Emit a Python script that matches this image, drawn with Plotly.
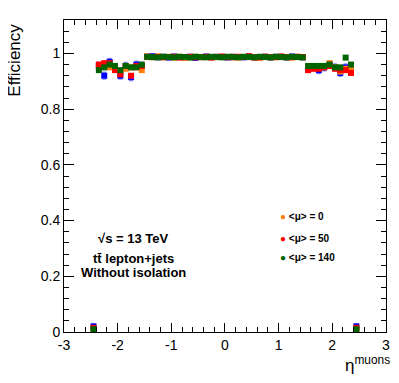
import plotly.graph_objects as go

# bin centres in eta (0.1 wide bins from -2.5 to 2.5)
eta = [-2.45, -2.35, -2.25, -2.15, -2.05, -1.95, -1.85, -1.75, -1.65, -1.55,
       -1.45, -1.35, -1.25, -1.15, -1.05, -0.95, -0.85, -0.75, -0.65, -0.55,
       -0.45, -0.35, -0.25, -0.15, -0.05, 0.05, 0.15, 0.25, 0.35, 0.45,
       0.55, 0.65, 0.75, 0.85, 0.95, 1.05, 1.15, 1.25, 1.35, 1.45,
       1.55, 1.65, 1.75, 1.85, 1.95, 2.05, 2.15, 2.25, 2.35, 2.45]

eff_blue = [0.020, 0.955, 0.920, 0.970, 0.950, 0.920, 0.955, 0.915, 0.960, 0.955,
            0.987, 0.990, 0.986, 0.988, 0.985, 0.989, 0.987, 0.986, 0.988, 0.984,
            0.987, 0.989, 0.986, 0.988, 0.987, 0.985, 0.988, 0.987, 0.986, 0.989,
            0.987, 0.985, 0.988, 0.986, 0.988, 0.987, 0.986, 0.989, 0.987, 0.986,
            0.945, 0.950, 0.940, 0.950, 0.960, 0.950, 0.930, 0.950, 0.935, 0.020]
eff_mu0 = [0.012, 0.955, 0.960, 0.950, 0.945, 0.935, 0.945, 0.950, 0.950, 0.940,
           0.987, 0.986, 0.989, 0.987, 0.988, 0.985, 0.988, 0.984, 0.987, 0.988,
           0.986, 0.987, 0.985, 0.988, 0.987, 0.986, 0.988, 0.985, 0.987, 0.988,
           0.986, 0.984, 0.988, 0.987, 0.986, 0.988, 0.987, 0.985, 0.988, 0.986,
           0.950, 0.950, 0.950, 0.955, 0.965, 0.950, 0.935, 0.945, 0.940, 0.012]
eff_mu50 = [0.015, 0.960, 0.965, 0.965, 0.940, 0.925, 0.955, 0.920, 0.955, 0.955,
            0.989, 0.987, 0.988, 0.986, 0.987, 0.988, 0.985, 0.987, 0.988, 0.986,
            0.987, 0.988, 0.986, 0.987, 0.989, 0.987, 0.986, 0.988, 0.987, 0.990,
            0.985, 0.987, 0.988, 0.986, 0.987, 0.989, 0.986, 0.987, 0.988, 0.987,
            0.940, 0.945, 0.945, 0.950, 0.955, 0.945, 0.940, 0.940, 0.930, 0.015]
eff_mu140 = [0.010, 0.940, 0.950, 0.960, 0.955, 0.940, 0.955, 0.950, 0.950, 0.960,
             0.988, 0.987, 0.986, 0.988, 0.987, 0.986, 0.988, 0.987, 0.985, 0.988,
             0.987, 0.986, 0.988, 0.987, 0.986, 0.988, 0.987, 0.986, 0.988, 0.987,
             0.986, 0.988, 0.987, 0.986, 0.988, 0.987, 0.986, 0.988, 0.987, 0.986,
             0.955, 0.955, 0.955, 0.955, 0.960, 0.950, 0.950, 0.985, 0.960, 0.010]

err_blue = [0.010, 0.012, 0.012, 0.012, 0.012, 0.012, 0.012, 0.012, 0.012, 0.012,
            0.005, 0.005, 0.005, 0.005, 0.005, 0.005, 0.005, 0.005, 0.005, 0.005,
            0.005, 0.005, 0.005, 0.005, 0.005, 0.005, 0.005, 0.005, 0.005, 0.005,
            0.005, 0.005, 0.005, 0.005, 0.005, 0.005, 0.005, 0.005, 0.005, 0.005,
            0.012, 0.012, 0.012, 0.012, 0.012, 0.012, 0.012, 0.012, 0.012, 0.010]
err_other = [0.006, 0.007, 0.007, 0.007, 0.007, 0.007, 0.007, 0.007, 0.007, 0.007,
             0.003, 0.003, 0.003, 0.003, 0.003, 0.003, 0.003, 0.003, 0.003, 0.003,
             0.003, 0.003, 0.003, 0.003, 0.003, 0.003, 0.003, 0.003, 0.003, 0.003,
             0.003, 0.003, 0.003, 0.003, 0.003, 0.003, 0.003, 0.003, 0.003, 0.003,
             0.007, 0.007, 0.007, 0.007, 0.007, 0.007, 0.007, 0.007, 0.007, 0.006]

x_ticks = [-3, -2, -1, 0, 1, 2, 3]
x_labels = ["-3", "-2", "-1", "0", "1", "2", "3"]

series = [
    ("&lt;μ&gt; = 0", eff_mu0, "#ff7f0e"),
    ("&lt;μ&gt; = 50", eff_mu50, "#ff0000"),
    ("&lt;μ&gt; = 140", eff_mu140, "#006400"),
]

font = "Liberation Sans, Arial, sans-serif"

fig = go.Figure()

fig.add_trace(go.Scatter(
    x=eta, y=eff_blue, mode="markers", showlegend=False,
    marker=dict(symbol="square", size=6, color="#0000ff"),
    error_y=dict(type="data", array=err_blue, color="rgba(60,60,230,0.6)",
                 thickness=1.5, width=2),
    error_x=dict(type="constant", value=0.035, color="rgba(60,60,230,0.6)",
                 thickness=1.5, width=0),
))

for name, vals, col in series:
    fig.add_trace(go.Scatter(
        x=eta, y=vals, mode="markers", name=name, showlegend=False,
        marker=dict(symbol="square", size=6, color=col),
        error_y=dict(type="data", array=err_other, color=col,
                     thickness=1, width=0),
    ))

# page body adds an 8px offset, so the figure is 8px smaller than the window
fig.update_layout(
    width=391, height=375,
    margin=dict(l=56, r=9, t=12, b=51),
    plot_bgcolor="white", paper_bgcolor="white",
    font=dict(family=font, size=14, color="black"),
    showlegend=False,
)

fig.update_xaxes(range=[-3, 3.002], showline=True, linecolor="black", linewidth=1,
                 mirror="ticks", ticks="inside", ticklen=9, tickcolor="black",
                 tickvals=x_ticks, ticktext=x_labels, showgrid=False, zeroline=False,
                 minor=dict(ticks="inside", ticklen=5, dtick=0.2, tickcolor="black"))
fig.update_yaxes(range=[0, 1.12], showline=True, linecolor="black", linewidth=1,
                 mirror="ticks", ticks="inside", ticklen=10, tickcolor="black",
                 dtick=0.2, showgrid=False, zeroline=False,
                 minor=dict(ticks="inside", ticklen=5, dtick=0.04, tickcolor="black"))

fig.add_annotation(text="Efficiency", xref="paper", yref="paper", x=-0.155, y=0.87,
                   textangle=-90, xanchor="center", yanchor="middle", showarrow=False,
                   font=dict(size=17))
fig.add_annotation(text="η<sup>muons</sup>", xref="paper", yref="paper", x=1.02, y=-0.06,
                   xanchor="right", yanchor="top", showarrow=False,
                   font=dict(size=17))

fig.add_annotation(text="<b>√s = 13 TeV</b>", xref="paper", yref="paper",
                   x=0.215, y=0.301, xanchor="center", yanchor="middle",
                   showarrow=False, font=dict(size=13))
fig.add_annotation(text="<b>tt̄ lepton+jets</b>", xref="paper", yref="paper",
                   x=0.215, y=0.237, xanchor="center", yanchor="middle",
                   showarrow=False, font=dict(size=13))
fig.add_annotation(text="<b>Without isolation</b>", xref="paper", yref="paper",
                   x=0.215, y=0.192, xanchor="center", yanchor="middle",
                   showarrow=False, font=dict(size=13))

# legend drawn as text rows
leg_y = [0.37, 0.301, 0.240]
for (name, vals, col), yy in zip(series, leg_y):
    fig.add_annotation(text="<span style='color:%s'>●</span> <b>%s</b>" % (col, name),
                       xref="paper", yref="paper", x=0.665, y=yy,
                       xanchor="left", yanchor="middle", showarrow=False,
                       font=dict(size=10))

fig.write_html("out.html")
